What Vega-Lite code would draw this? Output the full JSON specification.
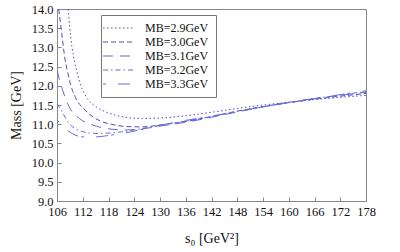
{
  "$schema": "https://vega.github.io/schema/vega-lite/v6.json",
  "width": 309,
  "height": 192,
  "autosize": {"type": "none"},
  "padding": {"left": 57, "top": 9, "right": 34, "bottom": 51},
  "background": "white",
  "config": {
    "view": {"stroke": "#888", "strokeWidth": 1},
    "font": "Liberation Serif",
    "style": {"guide-label": {"font": "Liberation Serif"}, "guide-title": {"font": "Liberation Serif"}},
    "axis": {
      "labelFont": "Liberation Serif",
      "titleFont": "Liberation Serif",
      "labelFontSize": 12.5,
      "titleFontSize": 14,
      "titleFontWeight": "normal",
      "labelColor": "#111",
      "titleColor": "#111",
      "domainColor": "#888",
      "tickColor": "#888",
      "grid": false,
      "tickSize": -4,
      "labelPadding": 8
    },
    "legend": {
      "labelFont": "Liberation Serif",
      "labelFontSize": 12,
      "labelColor": "#111"
    }
  },
  "data": {
    "values": [
      {"MB": "MB=2.9GeV", "s0": 108.6, "mass": 14.0},
      {"MB": "MB=2.9GeV", "s0": 109.0, "mass": 13.5},
      {"MB": "MB=2.9GeV", "s0": 109.5, "mass": 13.0},
      {"MB": "MB=2.9GeV", "s0": 110.1, "mass": 12.62},
      {"MB": "MB=2.9GeV", "s0": 110.8, "mass": 12.3},
      {"MB": "MB=2.9GeV", "s0": 111.5, "mass": 12.02},
      {"MB": "MB=2.9GeV", "s0": 112.4, "mass": 11.8},
      {"MB": "MB=2.9GeV", "s0": 113.3, "mass": 11.63},
      {"MB": "MB=2.9GeV", "s0": 114.8, "mass": 11.48},
      {"MB": "MB=2.9GeV", "s0": 116.4, "mass": 11.37},
      {"MB": "MB=2.9GeV", "s0": 119.5, "mass": 11.24},
      {"MB": "MB=2.9GeV", "s0": 122.0, "mass": 11.18},
      {"MB": "MB=2.9GeV", "s0": 126.0, "mass": 11.15},
      {"MB": "MB=2.9GeV", "s0": 130.0, "mass": 11.16},
      {"MB": "MB=2.9GeV", "s0": 136.0, "mass": 11.22},
      {"MB": "MB=2.9GeV", "s0": 142.0, "mass": 11.31},
      {"MB": "MB=2.9GeV", "s0": 148.0, "mass": 11.41},
      {"MB": "MB=2.9GeV", "s0": 154.0, "mass": 11.5},
      {"MB": "MB=2.9GeV", "s0": 160.0, "mass": 11.57},
      {"MB": "MB=2.9GeV", "s0": 166.0, "mass": 11.64},
      {"MB": "MB=2.9GeV", "s0": 172.0, "mass": 11.7},
      {"MB": "MB=2.9GeV", "s0": 178.0, "mass": 11.75},

      {"MB": "MB=3.0GeV", "s0": 106.4, "mass": 14.0},
      {"MB": "MB=3.0GeV", "s0": 107.1, "mass": 13.37},
      {"MB": "MB=3.0GeV", "s0": 107.9, "mass": 12.67},
      {"MB": "MB=3.0GeV", "s0": 108.4, "mass": 12.4},
      {"MB": "MB=3.0GeV", "s0": 109.2, "mass": 12.02},
      {"MB": "MB=3.0GeV", "s0": 110.2, "mass": 11.72},
      {"MB": "MB=3.0GeV", "s0": 112.5, "mass": 11.37},
      {"MB": "MB=3.0GeV", "s0": 115.6, "mass": 11.11},
      {"MB": "MB=3.0GeV", "s0": 119.5, "mass": 10.98},
      {"MB": "MB=3.0GeV", "s0": 122.0, "mass": 10.94},
      {"MB": "MB=3.0GeV", "s0": 126.0, "mass": 10.93},
      {"MB": "MB=3.0GeV", "s0": 130.0, "mass": 10.98},
      {"MB": "MB=3.0GeV", "s0": 136.0, "mass": 11.07},
      {"MB": "MB=3.0GeV", "s0": 142.0, "mass": 11.2},
      {"MB": "MB=3.0GeV", "s0": 148.0, "mass": 11.34},
      {"MB": "MB=3.0GeV", "s0": 154.0, "mass": 11.46},
      {"MB": "MB=3.0GeV", "s0": 160.0, "mass": 11.56},
      {"MB": "MB=3.0GeV", "s0": 166.0, "mass": 11.65},
      {"MB": "MB=3.0GeV", "s0": 172.0, "mass": 11.73},
      {"MB": "MB=3.0GeV", "s0": 178.0, "mass": 11.8},

      {"MB": "MB=3.1GeV", "s0": 106.0, "mass": 12.41},
      {"MB": "MB=3.1GeV", "s0": 107.3, "mass": 11.89},
      {"MB": "MB=3.1GeV", "s0": 108.8, "mass": 11.46},
      {"MB": "MB=3.1GeV", "s0": 111.2, "mass": 11.15},
      {"MB": "MB=3.1GeV", "s0": 114.3, "mass": 10.98},
      {"MB": "MB=3.1GeV", "s0": 117.4, "mass": 10.89},
      {"MB": "MB=3.1GeV", "s0": 121.9, "mass": 10.85},
      {"MB": "MB=3.1GeV", "s0": 126.0, "mass": 10.88},
      {"MB": "MB=3.1GeV", "s0": 130.0, "mass": 10.95},
      {"MB": "MB=3.1GeV", "s0": 136.0, "mass": 11.05},
      {"MB": "MB=3.1GeV", "s0": 142.0, "mass": 11.18},
      {"MB": "MB=3.1GeV", "s0": 148.0, "mass": 11.32},
      {"MB": "MB=3.1GeV", "s0": 154.0, "mass": 11.45},
      {"MB": "MB=3.1GeV", "s0": 160.0, "mass": 11.56},
      {"MB": "MB=3.1GeV", "s0": 166.0, "mass": 11.66},
      {"MB": "MB=3.1GeV", "s0": 172.0, "mass": 11.75},
      {"MB": "MB=3.1GeV", "s0": 178.0, "mass": 11.83},

      {"MB": "MB=3.2GeV", "s0": 106.0, "mass": 11.54},
      {"MB": "MB=3.2GeV", "s0": 107.3, "mass": 11.3},
      {"MB": "MB=3.2GeV", "s0": 108.8, "mass": 11.02},
      {"MB": "MB=3.2GeV", "s0": 110.2, "mass": 10.89},
      {"MB": "MB=3.2GeV", "s0": 112.5, "mass": 10.79},
      {"MB": "MB=3.2GeV", "s0": 115.6, "mass": 10.76},
      {"MB": "MB=3.2GeV", "s0": 121.0, "mass": 10.8},
      {"MB": "MB=3.2GeV", "s0": 126.0, "mass": 10.89},
      {"MB": "MB=3.2GeV", "s0": 130.0, "mass": 10.97},
      {"MB": "MB=3.2GeV", "s0": 136.0, "mass": 11.08},
      {"MB": "MB=3.2GeV", "s0": 142.0, "mass": 11.2},
      {"MB": "MB=3.2GeV", "s0": 148.0, "mass": 11.33},
      {"MB": "MB=3.2GeV", "s0": 154.0, "mass": 11.45},
      {"MB": "MB=3.2GeV", "s0": 160.0, "mass": 11.57},
      {"MB": "MB=3.2GeV", "s0": 166.0, "mass": 11.67},
      {"MB": "MB=3.2GeV", "s0": 172.0, "mass": 11.76},
      {"MB": "MB=3.2GeV", "s0": 178.0, "mass": 11.85},

      {"MB": "MB=3.3GeV", "s0": 106.0, "mass": 11.11},
      {"MB": "MB=3.3GeV", "s0": 107.9, "mass": 10.89},
      {"MB": "MB=3.3GeV", "s0": 110.2, "mass": 10.72},
      {"MB": "MB=3.3GeV", "s0": 111.8, "mass": 10.67},
      {"MB": "MB=3.3GeV", "s0": 114.9, "mass": 10.67},
      {"MB": "MB=3.3GeV", "s0": 118.8, "mass": 10.72},
      {"MB": "MB=3.3GeV", "s0": 121.9, "mass": 10.77},
      {"MB": "MB=3.3GeV", "s0": 126.0, "mass": 10.87},
      {"MB": "MB=3.3GeV", "s0": 130.0, "mass": 10.97},
      {"MB": "MB=3.3GeV", "s0": 136.0, "mass": 11.1},
      {"MB": "MB=3.3GeV", "s0": 142.0, "mass": 11.21},
      {"MB": "MB=3.3GeV", "s0": 148.0, "mass": 11.33},
      {"MB": "MB=3.3GeV", "s0": 154.0, "mass": 11.45},
      {"MB": "MB=3.3GeV", "s0": 160.0, "mass": 11.57},
      {"MB": "MB=3.3GeV", "s0": 166.0, "mass": 11.67},
      {"MB": "MB=3.3GeV", "s0": 172.0, "mass": 11.77},
      {"MB": "MB=3.3GeV", "s0": 178.0, "mass": 11.87}
    ]
  },
  "mark": {"type": "line", "interpolate": "monotone", "strokeWidth": 1, "clip": true},
  "encoding": {
    "x": {
      "field": "s0",
      "type": "quantitative",
      "scale": {"domain": [106, 178], "nice": false, "zero": false},
      "axis": {
        "title": "s₀ [GeV²]",
        "values": [106, 112, 118, 124, 130, 136, 142, 148, 154, 160, 166, 172, 178],
        "labelFlush": false,
        "titlePadding": 14
      }
    },
    "y": {
      "field": "mass",
      "type": "quantitative",
      "scale": {"domain": [9, 14], "nice": false, "zero": false},
      "axis": {
        "title": "Mass [GeV]",
        "values": [9, 9.5, 10, 10.5, 11, 11.5, 12, 12.5, 13, 13.5, 14],
        "format": ".1f",
        "labelFlush": false,
        "labelBaseline": "middle",
        "titlePadding": 8
      }
    },
    "color": {
      "field": "MB",
      "type": "nominal",
      "scale": {"range": ["#4e4ec4", "#4e4ec4", "#6a6ad4", "#6a6ad4", "#6e6ed6"]},
      "legend": {
        "title": null,
        "orient": "none",
        "legendX": 44,
        "legendY": 6,
        "padding": 7,
        "strokeColor": "#777",
        "fillColor": "white",
        "symbolType": "M-3,0H3",
        "symbolSize": 100,
        "symbolStrokeWidth": 1.2,
        "symbolOffset": 4,
        "rowPadding": 2,
        "labelOffset": 21
      }
    },
    "strokeDash": {
      "field": "MB",
      "type": "nominal",
      "scale": {"range": [[1.5, 2.5], [5, 3], [10, 7], [5, 3, 1.5, 3], [3, 12, 12, 3]]},
      "legend": {
        "title": null,
        "orient": "none",
        "legendX": 44,
        "legendY": 6
      }
    }
  }
}
